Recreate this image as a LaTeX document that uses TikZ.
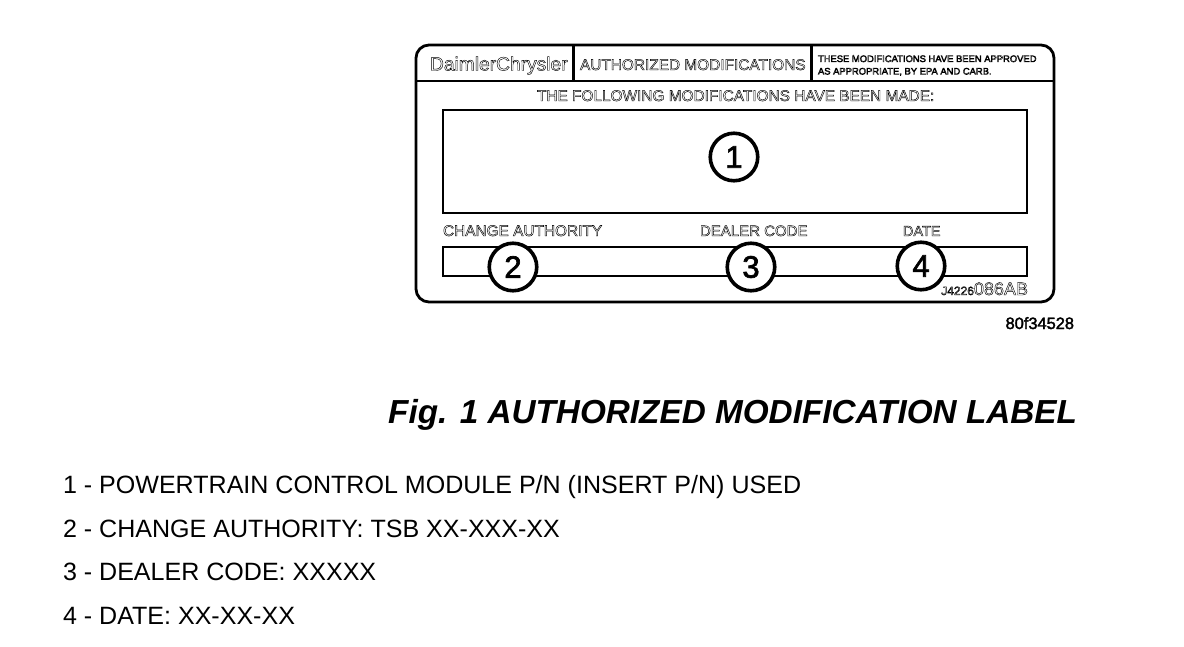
\documentclass[tikz,border=0pt]{standalone}
\usepackage{fontspec}
\setmainfont{Liberation Sans}
\usetikzlibrary{positioning}
\newcommand{\hollow}[1]{\special{pdf:code q 1 Tr 0.45 w}#1\special{pdf:code Q}}
\newcommand{\heavy}[1]{\special{pdf:code q 2 Tr 0.35 w}#1\special{pdf:code Q}}
\newcommand{\heavier}[1]{\special{pdf:code q 2 Tr 0.7 w}#1\special{pdf:code Q}}
\tikzset{
    x=1pt, y=-1pt,
    every node/.style={inner sep=0pt, outer sep=0pt},
    panel/.style={draw, line width=2.8pt, rectangle},
    callout/.style={circle, draw, line width=3.6pt, fill=white, minimum size=47.5pt, font=\fontsize{31}{31}\selectfont},
    print/.style={anchor=base west, font=\fontsize{#1}{#1}\selectfont},
    print/.default=14,
    item/.style={anchor=base west, font=\fontsize{25.05}{25.05}\selectfont}
}

\begin{document}
\begin{tikzpicture}
    \useasboundingbox (0,0) rectangle (1184,646);
    % label frame
    \node[panel, rounded corners=13pt, minimum width=638pt, minimum height=257pt] (frame) at (735,173.5) {};
    \coordinate (headL) at (416,81);
    \coordinate (headR) at (1054,81);
    \coordinate (sepAtop) at (573.5,45);
    \coordinate (sepAbot) at (573.5,81);
    \coordinate (sepBtop) at (811.5,45);
    \coordinate (sepBbot) at (811.5,81);
    \draw[line width=2.8pt] (headL) -- (headR)
        (sepAtop) -- (sepAbot)
        (sepBtop) -- (sepBbot);
    \node[panel, minimum width=584pt, minimum height=103pt] (box1) at (735,161.5) {};
    \node[panel, minimum width=584pt, minimum height=29pt] (box2) at (735,261.5) {};
    % printed words
    \node[print=19.2] (maker) at (430,70.5) {\hollow{DaimlerChrysler}};
    \node[print=15.4] (title) at (580,70) {\hollow{AUTHORIZED MODIFICATIONS}};
    \node[print=9.4] (noteA) at (818,62) {\hollow{THESE MODIFICATIONS HAVE BEEN APPROVED}};
    \node[print=9.4] (noteB) at (818,74.5) {\hollow{AS APPROPRIATE, BY EPA AND CARB.}};
    \node[print=15.4] (made) at (537,101) {\hollow{THE FOLLOWING MODIFICATIONS HAVE BEEN MADE:}};
    \node[print=15.4] (authority) at (443,236) {\hollow{CHANGE AUTHORITY}};
    \node[print=15] (code) at (700,236) {\hollow{DEALER CODE}};
    \node[print=14.5] (date) at (903,236) {\hollow{DATE}};
    \node[anchor=base east] (partno) at (1028,295) {\fontsize{12}{12}\selectfont\hollow{J4226}\fontsize{18}{18}\selectfont\hollow{086AB}};
    % callouts
    \node[callout] (c1) at (734,157) {\heavier{1}};
    \node[callout] (c2) at (513,267) {\heavier{2}};
    \node[callout] (c3) at (751,267) {\heavier{3}};
    \node[callout] (c4) at (921,266) {\heavier{4}};
    % caption and key
    \node[anchor=base east, font=\fontsize{16.4}{16.4}\selectfont] (fig) at (1074,329) {\heavy{80f34528}};
    \node[anchor=base east, font=\fontsize{33.3}{33.3}\selectfont\bfseries\itshape] (caption) at (1077,423) {Fig. 1 AUTHORIZED MODIFICATION LABEL};
    \node[item] (k1) at (63,493) {1 - POWERTRAIN CONTROL MODULE P/N (INSERT P/N) USED};
    \node[item] (k2) at (63,537) {2 - CHANGE AUTHORITY: TSB XX-XXX-XX};
    \node[item] (k3) at (63,580) {3 - DEALER CODE: XXXXX};
    \node[item] (k4) at (63,624) {4 - DATE: XX-XX-XX};
\end{tikzpicture}
\end{document}
